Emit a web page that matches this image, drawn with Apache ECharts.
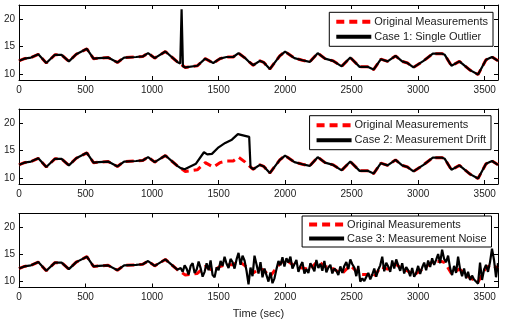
<!DOCTYPE html>
<html><head><meta charset="utf-8">
<script src="https://cdn.jsdelivr.net/npm/echarts@6/dist/echarts.min.js"></script>
<style>html,body{margin:0;padding:0;background:#fff}#c{width:505px;height:323px}</style>
</head><body><div id="c"></div>
<script>
// ---- data ----
const origTimes = [0,40,90,145,205,270,320,375,430,510,560,600,670,740,790,880,930,970,1020,1100,1190,1215,1250,1340,1400,1460,1510,1560,1610,1650,1700,1730,1760,1810,1840,1885,1960,2000,2070,2130,2185,2245,2300,2360,2425,2490,2560,2620,2665,2720,2770,2830,2880,2920,2965,3040,3110,3180,3200,3250,3310,3390,3450,3510,3555,3600];
const origValues = [12.4,12.8,13.0,13.6,12.0,13.5,13.5,12.3,13.6,14.6,12.8,12.9,13.0,12.1,13.0,13.1,13.2,13.8,12.9,14.1,12.2,11.8,11.2,11.5,12.8,12.0,12.8,13.1,13.1,13.8,12.9,12.2,11.6,12.4,12.1,10.9,13.3,14.1,12.9,12.5,12.2,13.8,12.8,12.4,11.4,13.0,11.3,11.3,10.8,12.7,12.3,13.3,12.3,12.0,11.2,12.4,13.7,13.7,13.5,11.5,12.3,10.7,9.9,12.6,13.1,12.4];

const spikeTimes = [1212,1222,1232];
const spikeValues = [11.9,21.8,11.4];

const driftTimes = [1245,1330,1390,1415,1450,1500,1550,1600,1645,1730,1740];
const driftValues = [11.6,12.6,14.7,14.3,14.4,15.6,16.4,17.0,18.0,17.5,12.0];

const noiseTimes = [1200,1215,1230,1245,1260,1275,1290,1305,1320,1335,1350,1365,1380,1395,1410,1425,1440,1455,1470,1485,1500,1515,1530,1545,1560,1575,1590,1605,1620,1635,1650,1665,1680,1695,1710,1725,1740,1755,1770,1785,1800,1815,1830,1845,1860,1875,1890,1905,1920,1935,1950,1965,1980,1995,2010,2025,2040,2055,2070,2085,2100,2115,2130,2145,2160,2175,2190,2205,2220,2235,2250,2265,2280,2295,2310,2325,2340,2355,2370,2385,2400,2415,2430,2445,2460,2475,2490,2505,2520,2535,2550,2565,2580,2595,2610,2625,2640,2655,2670,2685,2700,2715,2730,2745,2760,2775,2790,2805,2820,2835,2850,2865,2880,2895,2910,2925,2940,2955,2970,2985,3000,3015,3030,3045,3060,3075,3090,3105,3120,3135,3150,3165,3180,3195,3210,3225,3240,3255,3270,3285,3300,3315,3330,3345,3360,3375,3390,3405,3420,3435,3450,3465,3480,3495,3510,3525,3540,3555,3570,3585,3600];
const noiseValues = [12.1,12.5,11.8,13.0,12.4,11.3,12.9,13.4,11.6,12.2,13.7,12.5,10.9,11.8,13.4,12.1,13.9,11.2,10.8,12.6,12.1,13.8,12.9,14.6,13.3,12.5,14.2,13.6,12.4,14.1,15.3,13.1,14.8,13.9,12.0,9.5,12.6,11.0,14.8,13.2,11.5,13.6,10.8,12.4,11.2,10.0,11.7,9.7,10.6,12.3,13.8,13.0,14.5,12.8,14.3,13.5,14.6,12.4,13.2,14.0,11.8,12.9,13.6,11.5,12.3,11.6,13.4,12.7,11.9,14.0,12.5,13.3,12.0,13.8,11.7,12.6,13.1,11.5,12.4,12.0,11.2,12.8,11.6,12.9,13.6,12.3,14.1,13.2,12.6,11.0,12.9,10.0,10.6,10.1,10.4,11.6,10.4,11.3,12.4,10.9,12.2,13.0,14.6,11.9,13.5,12.8,11.8,13.9,12.4,14.1,13.0,12.0,13.4,11.5,12.7,12.1,11.0,12.5,10.9,11.6,12.9,11.4,12.6,13.5,12.1,13.9,12.7,14.3,13.1,14.0,15.1,13.4,15.9,14.2,13.6,14.8,12.5,11.2,12.9,11.6,14.6,12.3,11.0,12.4,10.6,11.8,10.3,11.1,10.4,10.0,9.6,13.5,10.3,12.2,13.1,11.8,13.6,16.1,14.0,10.8,13.4];

const xTicks = [0,500,1000,1500,2000,2500,3000,3500];
const yTicks = [10,15,20];
const origName = 'Original Measurements';
const caseNames = ['Case 1: Single Outlier','Case 2: Measurement Drift','Case 3: Measurement Noise'];
const xTitle = 'Time (sec)';

// ---- build ----
function pairs(ts, vs){ return ts.map((t,i)=>[t, vs[i]]); }
function splice(ts, vs, from, to, insT, insV){
  const out = [];
  ts.forEach((t,i)=>{ if (t < from) out.push([t, vs[i]]); });
  insT.forEach((t,i)=>out.push([t, insV[i]]));
  ts.forEach((t,i)=>{ if (t > to) out.push([t, vs[i]]); });
  return out;
}
const origData = pairs(origTimes, origValues);
const caseData = [
  splice(origTimes, origValues, 1210, 1240, spikeTimes, spikeValues),
  splice(origTimes, origValues, 1240, 1745, driftTimes, driftValues),
  splice(origTimes, origValues, 1195, 3600, noiseTimes, noiseValues)
];

const FONT = '"Liberation Sans", Arial, Helvetica, sans-serif';
const TXT = '#222';
const gridTops = [5, 109, 213.5];
const gridH = [75, 75, 74];
const legendTops = [12.3, 115.7, 216];
const legendRights = [12, 14, 13.5];
const legendPad = [[4,5],[4,5],[3,5]];
const legendGap = [4,4,3];

const grids = [], xAxes = [], yAxes = [], series = [], legends = [];
for (let g = 0; g < 3; g++) {
  grids.push({left: 19, right: 7, top: gridTops[g], height: gridH[g]});
  ['bottom','top'].forEach(pos => {
    xAxes.push({
      type: 'value', gridIndex: g, position: pos, min: 0, max: 3600,
      axisLine: {show: true, onZero: false, lineStyle: {color: '#000', width: 1}},
      axisTick: {show: true, inside: true, length: 4, customValues: xTicks, lineStyle: {color: '#000'}},
      axisLabel: {show: pos === 'bottom', customValues: xTicks, formatter: v => String(v),
        margin: 5, fontSize: 10, color: TXT, fontFamily: FONT},
      splitLine: {show: false},
      name: (g === 2 && pos === 'bottom') ? xTitle : '',
      nameLocation: 'middle', nameGap: 21,
      nameTextStyle: {fontSize: 11, color: TXT, fontFamily: FONT}
    });
  });
  ['left','right'].forEach(pos => {
    yAxes.push({
      type: 'value', gridIndex: g, position: pos, min: 8.9, max: 22.6,
      axisLine: {show: true, onZero: false, lineStyle: {color: '#000', width: 1}},
      axisTick: {show: true, inside: true, length: 4, customValues: yTicks, lineStyle: {color: '#000'}},
      axisLabel: {show: pos === 'left', customValues: yTicks, formatter: v => String(v),
        margin: 4, fontSize: 10, color: TXT, fontFamily: FONT},
      splitLine: {show: false}
    });
  });
  series.push({
    name: origName, type: 'line', xAxisIndex: g*2, yAxisIndex: g*2,
    data: origData, symbol: 'none', silent: true,
    lineStyle: {color: '#ff0000', width: 3, type: [8,5]}, itemStyle: {color: '#ff0000'}, z: 2
  });
  series.push({
    name: caseNames[g], type: 'line', xAxisIndex: g*2, yAxisIndex: g*2,
    data: caseData[g], symbol: 'none', silent: true,
    lineStyle: {color: '#000000', width: 2.2}, itemStyle: {color: '#000000'}, z: 3
  });
  legends.push({
    data: [origName, caseNames[g]], orient: 'vertical',
    right: legendRights[g], top: legendTops[g],
    padding: legendPad[g], itemGap: legendGap[g],
    itemWidth: 35, itemHeight: 12,
    borderColor: '#000', borderWidth: 1, backgroundColor: '#fff',
    selectedMode: false,
    lineStyle: {width: 4},
    itemStyle: {opacity: 0, color: 'transparent', borderColor: 'transparent', borderWidth: 0},
    textStyle: {fontSize: 11, color: TXT, fontFamily: FONT, padding: [0,0,0,-2]},
    z: 10
  });
}

const chart = echarts.init(document.getElementById('c'), null, {renderer: 'canvas'});
chart.setOption({
  animation: false,
  backgroundColor: '#fff',
  grid: grids, xAxis: xAxes, yAxis: yAxes, series: series, legend: legends
});
</script>
</body></html>
